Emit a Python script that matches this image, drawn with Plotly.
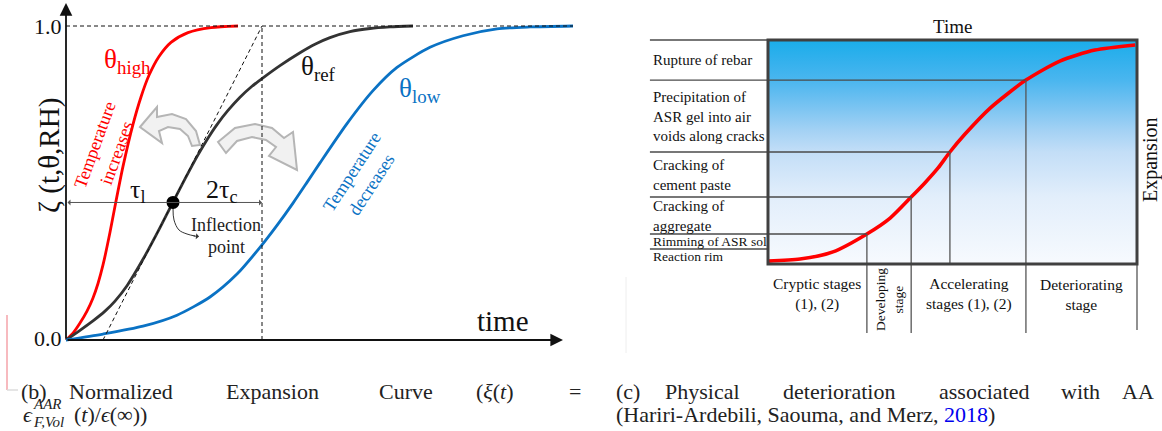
import plotly.graph_objects as go

W, H = 1162, 431
SERIF = "Liberation Serif, Times New Roman, serif"

# ---------------- panel (b): normalized expansion curves (time, zeta) ----------------
high_t = [0, 0.07, 0.14, 0.21, 0.27, 0.32, 0.37, 0.44, 0.49, 0.57, 0.67, 0.75, 0.83, 0.93, 1.05, 1.22, 1.45, 1.72]
high_z = [0, 0.022, 0.054, 0.092, 0.134, 0.180, 0.239, 0.343, 0.426, 0.553, 0.687, 0.774, 0.843, 0.903, 0.948,
          0.979, 0.995, 1.0]

ref_t = [0, 0.14, 0.27, 0.39, 0.49, 0.61, 0.77, 0.94, 1.07, 1.19, 1.31, 1.41, 1.51, 1.62, 1.74, 1.86, 1.97,
         2.14, 2.34, 2.49, 2.64, 2.84, 3.04, 3.24, 3.47]
ref_z = [0, 0.031, 0.061, 0.092, 0.124, 0.173, 0.257, 0.358, 0.439, 0.513, 0.584, 0.638, 0.686, 0.731, 0.773,
         0.808, 0.835, 0.874, 0.915, 0.942, 0.963, 0.982, 0.992, 0.997, 1.0]

low_t = [0, 0.37, 0.77, 1.11, 1.44, 1.71, 1.94, 2.11, 2.27, 2.41, 2.54, 2.81, 3.07, 3.31, 3.64, 3.97, 4.31, 4.64, 5.07]
low_z = [0, 0.019, 0.044, 0.079, 0.137, 0.210, 0.295, 0.365, 0.436, 0.502, 0.564, 0.689, 0.794, 0.868, 0.932,
         0.969, 0.991, 0.997, 1.0]

infl_t = [1.07]          # inflection point of reference curve
infl_z = [0.438]
tangent_t = [0.37, 1.96]  # tangent at inflection point
tangent_z = [0.0, 1.0]
tau_end = 1.96            # tau_l + 2 tau_c
plateau_end = 5.07
time_axis_end = 4.97
zeta_axis_end = 1.073

# ---------------- panel (c): physical deterioration (time, expansion) ----------------
curve_s = [0, 0.087, 0.176, 0.268, 0.331, 0.388, 0.425, 0.461, 0.493, 0.534, 0.602, 0.699, 0.791, 0.886, 0.995]
curve_e = [0.013, 0.022, 0.054, 0.134, 0.205, 0.299, 0.362, 0.429, 0.5, 0.580, 0.696, 0.821, 0.906, 0.955, 0.978]

cross_s = [0.268, 0.388, 0.493, 0.699]   # curve hits event levels
cross_e = [0.134, 0.299, 0.5, 0.821]

event_levels = [0.0, 0.067, 0.134, 0.299, 0.5, 0.821, 1.0]
event_labels = ["Reaction rim", "Rimming of ASR sol", "Cracking of<br>aggregate", "Cracking of<br>cement paste",
                "Precipitation of<br>ASR gel into air<br>voids along cracks", "Rupture of rebar"]
stage_bounds = [0.0, 0.268, 0.388, 0.699, 1.0]
stage_labels = ["Cryptic stages<br>(1), (2)", "Developing<br>stage", "Accelerating<br>stages (1), (2)",
                "Deteriorating<br>stage"]


def LP(px, py):
    return (px - 66) / 100.0, (340 - py) / 314.0


def RP(px, py):
    return (px - 768) / 369.0, (264 - py) / 224.0


fig = go.Figure()

# ---- panel (b) traces ----
for xs, ys, col in [(high_t, high_z, "#ff0000"), (ref_t, ref_z, "#333333"), (low_t, low_z, "#0a72c4")]:
    fig.add_trace(go.Scatter(x=xs, y=ys, mode="lines", xaxis="x", yaxis="y",
                             line=dict(color=col, width=2.8, shape="spline", smoothing=0.7)))
fig.add_trace(go.Scatter(x=tangent_t, y=tangent_z, mode="lines", xaxis="x", yaxis="y",
                         line=dict(color="#111111", width=1, dash="4px,3px")))
fig.add_trace(go.Scatter(x=[0, plateau_end], y=[1, 1], mode="lines", xaxis="x", yaxis="y",
                         line=dict(color="#111111", width=1, dash="4px,3px")))
fig.add_trace(go.Scatter(x=[tau_end, tau_end], y=[0, 1], mode="lines", xaxis="x", yaxis="y",
                         line=dict(color="#111111", width=1, dash="4px,3px")))
# curly pointer from inflection point
curl = [LP(173, 208), LP(174, 220), LP(179, 230), LP(187, 234), LP(195, 236)]
fig.add_trace(go.Scatter(x=[c[0] for c in curl], y=[c[1] for c in curl], mode="lines", xaxis="x", yaxis="y",
                         line=dict(color="#333333", width=1, shape="spline")))
fig.add_trace(go.Scatter(x=infl_t, y=infl_z, mode="markers", xaxis="x", yaxis="y",
                         marker=dict(color="#000000", size=13)))

# ---- panel (c) traces ----
fig.add_trace(go.Scatter(
    x=[0, 1, 1, 0, 0], y=[0, 0, 1, 1, 0], mode="lines", fill="toself", xaxis="x2", yaxis="y2",
    line=dict(width=0, color="rgba(0,0,0,0)"),
    fillgradient=dict(type="vertical", colorscale=[
        [0, "#f7fafe"], [0.3, "#e2eefb"], [0.5, "#c3def7"], [0.6, "#a2d1f4"], [0.73, "#6ec0f1"],
        [0.82, "#4ab6ef"], [0.9, "#35b1ed"], [1, "#1aadea"]])))

shapes = []
LEFT_S = -0.32
# horizontal event lines (to curve)
for s, e in zip(cross_s, cross_e):
    shapes.append(dict(type="line", xref="x2", yref="y2", x0=LEFT_S, x1=s, y0=e, y1=e,
                       line=dict(color="#4a4a4a", width=1.3)))
for e in [event_levels[1], event_levels[-1]]:
    shapes.append(dict(type="line", xref="x2", yref="y2", x0=LEFT_S, x1=0, y0=e, y1=e,
                       line=dict(color="#4a4a4a", width=1.3)))
# vertical stage lines
for s, e in zip(cross_s, cross_e):
    bottom = 0 if s == cross_s[2] else -0.308
    shapes.append(dict(type="line", xref="x2", yref="y2", x0=s, x1=s, y0=e, y1=bottom,
                       line=dict(color="#555555", width=1.3)))
shapes.append(dict(type="line", xref="x2", yref="y2", x0=1, x1=1, y0=0, y1=-0.295,
                   line=dict(color="#555555", width=1.3)))
# box frame
shapes.append(dict(type="rect", xref="x2", yref="y2", x0=0, x1=1, y0=0, y1=1,
                   line=dict(color="#404040", width=3)))

fig.add_trace(go.Scatter(x=curve_s, y=curve_e, mode="lines", xaxis="x2", yaxis="y2",
                         line=dict(color="#ff0000", width=3.6, shape="spline", smoothing=0.7)))


# decorative hollow grey arrows (panel b)
def path_from(pts):
    conv = [LP(*p) for p in pts]
    return "M " + " L ".join(f"{x:.4f},{y:.4f}" for x, y in conv) + " Z"


arrow1 = [(140, 127), (157, 107), (157, 117), (172, 114), (186, 119), (196, 131), (200, 145), (192, 146),
          (188, 136), (180, 129), (168, 127), (159, 131), (162, 143)]
arrow2 = [(218, 142), (235, 128), (255, 124), (272, 128), (284, 138), (293, 132), (297, 170), (269, 156),
          (276, 147), (266, 140), (252, 137), (237, 141), (226, 153)]
for a in (arrow1, arrow2):
    shapes.append(dict(type="path", xref="x", yref="y", path=path_from(a),
                       fillcolor="rgba(240,240,240,0.9)", line=dict(color="#b5b5b5", width=2), layer="below"))

# stray edge marks of the original page
shapes.append(dict(type="line", xref="paper", yref="paper", x0=7 / W, x1=7 / W, y0=1 - 315 / H, y1=1 - 390 / H,
                   line=dict(color="#f4a3aa", width=1.5)))
shapes.append(dict(type="line", xref="paper", yref="paper", x0=7 / W, x1=18 / W, y0=1 - 390 / H, y1=1 - 390 / H,
                   line=dict(color="#dddddd", width=1.5)))
shapes.append(dict(type="line", xref="paper", yref="paper", x0=626 / W, x1=626 / W, y0=1 - 277 / H,
                   y1=1 - 353 / H, line=dict(color="#eeeeee", width=1)))

ann = []


def la(text, pos, size, color="#111111", angle=0, xanchor="center", align="center"):
    x, y = pos
    ann.append(dict(x=x, y=y, xref="x", yref="y", text=text, showarrow=False, textangle=angle,
                    xanchor=xanchor, yanchor="middle", align=align,
                    font=dict(family=SERIF, size=size, color=color)))


def ra(text, x, y, size, color="#111111", angle=0, xanchor="center", align="center"):
    ann.append(dict(x=x, y=y, xref="x2", yref="y2", text=text, showarrow=False, textangle=angle,
                    xanchor=xanchor, yanchor="middle", align=align,
                    font=dict(family=SERIF, size=size, color=color)))


def pa(text, px, py, size=22, color="#222222", xanchor="center"):
    ann.append(dict(x=px / W, y=1 - py / H, xref="paper", yref="paper", text=text, showarrow=False,
                    xanchor=xanchor, yanchor="middle", font=dict(family=SERIF, size=size, color=color)))


# axes arrows for panel (b)
ann.append(dict(x=time_axis_end, y=0, ax=0, ay=0, xref="x", yref="y", axref="x", ayref="y", text="",
                showarrow=True, arrowhead=2, arrowsize=1.4, arrowwidth=1.8, arrowcolor="#111111", standoff=0))
ann.append(dict(x=0, y=zeta_axis_end, ax=0, ay=0, xref="x", yref="y", axref="x", ayref="y", text="",
                showarrow=True, arrowhead=2, arrowsize=1.4, arrowwidth=1.8, arrowcolor="#111111", standoff=0))
# tau double arrow
ann.append(dict(x=tau_end, y=infl_z[0], ax=0, ay=infl_z[0], xref="x", yref="y", axref="x", ayref="y", text="",
                showarrow=True, arrowside="end+start", arrowhead=1, startarrowhead=1, arrowsize=1,
                startarrowsize=1, arrowwidth=1, arrowcolor="#555555", standoff=0, startstandoff=0))
# pointer head
hx, hy = LP(199, 236.5)
tx, ty = LP(192, 235.8)
ann.append(dict(x=hx, y=hy, ax=tx, ay=ty, xref="x", yref="y", axref="x", ayref="y", text="",
                showarrow=True, arrowhead=1, arrowsize=1, arrowwidth=1, arrowcolor="#333333", standoff=0))

la("1.0", LP(64, 26), 22, xanchor="right")
la("0.0", LP(64, 338), 22, xanchor="right")
la("ζ (t,θ,RH)", LP(49, 156), 29, angle=-90)
la("time", LP(503, 321), 29)
la("θ<sub>high</sub>", LP(127, 61), 27, color="#ff0000")
la("θ<sub>ref</sub>", LP(318, 68), 27, color="#111111")
la("θ<sub>low</sub>", LP(420, 90), 27, color="#0a72c4")
la("Temperature<br>increases", LP(105, 149), 18, color="#ff0000", angle=-70)
la("Temperature<br>decreases", LP(361, 178), 18, color="#0a72c4", angle=-57)
la("τ<sub>l</sub>", LP(138, 191), 26)
la("2τ<sub>c</sub>", LP(222, 191), 26)
la("Inflection", LP(226, 225), 18, color="#222222")
la("point", LP(226, 247), 18, color="#222222")

# panel (c) labels
for i, lab in enumerate(event_labels):
    ymid = (event_levels[i] + event_levels[i + 1]) / 2
    sz = 13.5 if i < 2 else 15
    ra(lab, LEFT_S + 0.003, ymid, sz, xanchor="left", align="left")
for i, lab in enumerate(stage_labels):
    xmid = (stage_bounds[i] + stage_bounds[i + 1]) / 2
    if i == 1:
        ra(lab, xmid, RP(0, 300)[1], 13.5, angle=-90)
    else:
        ra(lab, xmid, RP(0, 294)[1], 15.5)
ra("Time", 0.5, RP(0, 26)[1], 19)
ra("Expansion", RP(1150, 0)[0], RP(0, 160)[1], 20, angle=-90)

# captions
CY1, CY2 = 391, 414
for word, cx in [("(b)", 33.5), ("Normalized", 120.5), ("Expansion", 272), ("Curve", 406),
                 ("(<i>ξ</i>(<i>t</i>)", 495), ("=", 575)]:
    pa(word, cx, CY1)
pa("<i>ϵ</i>", 21, CY2, xanchor="left")
pa("<i>AAR</i>", 31, CY2 - 10, size=15, xanchor="left")
pa("<i>F,Vol</i>", 31, CY2 + 8, size=15, xanchor="left")
pa("(<i>t</i>)/<i>ϵ</i>(∞))", 72, CY2, xanchor="left")
for word, cx in [("(c)", 628), ("Physical", 702.5), ("deterioration", 839), ("associated", 983.5),
                 ("with", 1080)]:
    pa(word, cx, CY1)
pa("AA", 1120, CY1, xanchor="left")
pa("(Hariri-Ardebili, Saouma, and Merz, <span style='color:#0000ee'>2018</span>)", 614, CY2, xanchor="left")

ax_common = dict(visible=False, showgrid=False, zeroline=False, fixedrange=True)
fig.update_layout(
    width=W, height=H, margin=dict(l=0, r=0, t=0, b=0), autosize=False,
    paper_bgcolor="white", plot_bgcolor="white", showlegend=False,
    xaxis=dict(domain=[0, 600 / W], range=[-0.66, 5.34], **ax_common),
    yaxis=dict(domain=[0, 1], range=[(340 - 431) / 314, 340 / 314], **ax_common),
    xaxis2=dict(domain=[600 / W, 1], range=[(600 - 768) / 369, (1162 - 768) / 369], anchor="y2", **ax_common),
    yaxis2=dict(domain=[0, 1], range=[(264 - 431) / 224, 264 / 224], anchor="x2", **ax_common),
    shapes=shapes, annotations=ann,
)

fig.write_html("out.html")
